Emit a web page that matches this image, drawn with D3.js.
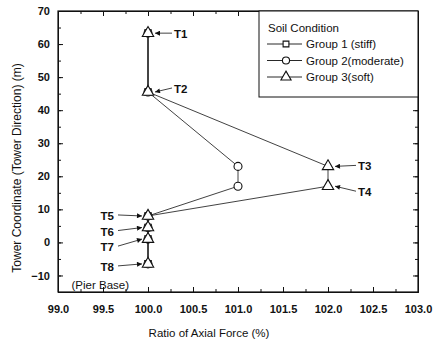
<!DOCTYPE html>
<html>
<head>
<meta charset="utf-8">
<script src="https://cdn.jsdelivr.net/npm/d3@7"></script>
<style>
    body { margin: 0; background: #fff; }
    svg { display: block; font-family: 'Liberation Sans', Arial, sans-serif; }
    .axis text { font-size: 11px; fill: #111; font-weight: bold; }
    .axis path, .axis line { stroke: #111; }
    .series { fill: none; stroke: #111; stroke-width: 0.8; }
    .node { fill: #fff; stroke: #111; stroke-width: 1.1; }
    .note { font-size: 11.5px; fill: #111; font-weight: bold; }
    .arrow { stroke: #111; stroke-width: 0.8; }
</style>
</head>
<body>
<script>
(function(){

// DATA

    const nodeNames = ['T1', 'T2', 'T3', 'T4', 'T5', 'T6', 'T7', 'T8'];
    const towerCoord = [63.3, 45.5, 23, 17, 8, 4.5, 1, -6.5];

    const seriesNames = ['Group 1 (stiff)', 'Group 2(moderate)', 'Group 3(soft)'];
    const group1 = [100, 100, null, null, 100, 100, 100, 100];
    const group2 = [100, 100, 101, 101, 100, 100, 100, 100];
    const group3 = [100, 100, 102, 102, 100, 100, 100, 100];

    const xTicks = [99.0, 99.5, 100.0, 100.5, 101.0, 101.5, 102.0, 102.5, 103.0];
    const yTicks = [-10, 0, 10, 20, 30, 40, 50, 60, 70];

// LAYOUT

    const width = 437,
        height = 343,
        margin = {top: 11, right: 19, bottom: 51, left: 58},
        innerW = width - margin.left - margin.right,
        innerH = height - margin.top - margin.bottom;

    // where each T-label sits relative to its node (px)
    const labelPlace = {
        T1: {dx: 26, dy: 1, side: 'r'},
        T2: {dx: 26, dy: -3, side: 'r'},
        T3: {dx: 30, dy: 0, side: 'r'},
        T4: {dx: 30, dy: 6, side: 'r'},
        T5: {dx: -34, dy: 0, side: 'l'},
        T6: {dx: -34, dy: 4, side: 'l'},
        T7: {dx: -34, dy: 8, side: 'l'},
        T8: {dx: -34, dy: 3, side: 'l'}
    };

    const svg = d3.select('body')
        .append('svg')
        .attr('width', width)
        .attr('height', height);

    svg.append('defs')
        .append('marker')
        .attr('id', 'head')
        .attr('viewBox', '0 0 10 10')
        .attr('refX', 10)
        .attr('refY', 5)
        .attr('markerWidth', 6)
        .attr('markerHeight', 5)
        .attr('markerUnits', 'userSpaceOnUse')
        .attr('orient', 'auto')
        .append('path')
        .attr('d', 'M0,0L10,5L0,10Z')
        .attr('fill', '#111');

    const g = svg.append('g')
        .attr('transform', 'translate(' + margin.left + ',' + margin.top + ')');

    const x = d3.scaleLinear().domain([99, 103]).range([0, innerW]);
    const y = d3.scaleLinear().domain([-15, 70]).range([innerH, 0]);

    const xMinor = d3.range(99, 103.01, 0.25);
    const yMinor = d3.range(-15, 70.01, 5);

// AXES

    function inward(axis, ticks, len){
        return axis.tickValues(ticks).tickSize(len).tickSizeOuter(0);
    }

    // minor ticks first, major ticks over them
    g.append('g').attr('class', 'axis')
        .attr('transform', 'translate(0,' + innerH + ')')
        .call(inward(d3.axisTop(x), xMinor, 3).tickFormat(''));
    g.append('g').attr('class', 'axis')
        .call(inward(d3.axisBottom(x), xMinor, 3).tickFormat(''));
    g.append('g').attr('class', 'axis')
        .call(inward(d3.axisRight(y), yMinor, 3).tickFormat(''));
    g.append('g').attr('class', 'axis')
        .attr('transform', 'translate(' + innerW + ',0)')
        .call(inward(d3.axisLeft(y), yMinor, 3).tickFormat(''));

    const xAxis = g.append('g').attr('class', 'axis')
        .attr('transform', 'translate(0,' + innerH + ')')
        .call(inward(d3.axisTop(x), xTicks, 5).tickFormat(d3.format('.1f')));
    xAxis.selectAll('text').attr('y', 13).attr('dy', '0.71em');

    const yAxis = g.append('g').attr('class', 'axis')
        .call(inward(d3.axisRight(y), yTicks, 5).tickFormat(d3.format('d')));
    yAxis.selectAll('text').attr('x', -8).attr('text-anchor', 'end');

    g.append('g').attr('class', 'axis')
        .call(inward(d3.axisBottom(x), xTicks, 5).tickFormat(''));
    g.append('g').attr('class', 'axis')
        .attr('transform', 'translate(' + innerW + ',0)')
        .call(inward(d3.axisLeft(y), yTicks, 5).tickFormat(''));

    // frame
    g.append('rect')
        .attr('width', innerW)
        .attr('height', innerH)
        .attr('fill', 'none')
        .attr('stroke', '#111')
        .attr('stroke-width', 1.2);

    svg.append('text')
        .attr('x', 209)
        .attr('y', 337)
        .attr('text-anchor', 'middle')
        .style('font-size', '11.5px')
        .attr('fill', '#111')
        .text('Ratio of Axial Force (%)');

    svg.append('text')
        .attr('transform', 'translate(21,' + 168 + ') rotate(-90)')
        .attr('text-anchor', 'middle')
        .style('font-size', '12px')
        .attr('fill', '#111')
        .text('Tower Coordinate (Tower Direction) (m)');

// SERIES

    const allSeries = [group1, group2, group3];
    const shapes = [d3.symbolSquare, d3.symbolCircle, d3.symbolTriangle];
    const shapeSize = [42, 50, 56];

    const line = d3.line()
        .defined(function(d){ return d.v !== null; })
        .x(function(d){ return x(d.v); })
        .y(function(d){ return y(d.h); });

    allSeries.forEach(function(vals, s){
        const pts = vals.map(function(v, i){
            return {v: v, h: towerCoord[i], name: nodeNames[i]};
        });

        g.append('path')
            .datum(pts)
            .attr('class', 'series')
            .attr('d', line);

        g.selectAll('.node' + s)
            .data(pts.filter(function(d){ return d.v !== null; }))
            .enter()
            .append('path')
            .attr('class', 'node node' + s)
            .attr('transform', function(d){
                return 'translate(' + x(d.v) + ',' + y(d.h) + ')';
            })
            .attr('d', d3.symbol().type(shapes[s]).size(shapeSize[s]));
    });

// NODE LABELS

    const labelled = nodeNames.map(function(n, i){
        return {name: n, v: group3[i], h: towerCoord[i]};
    });

    labelled.forEach(function(d){
        const p = labelPlace[d.name];
        const px = x(d.v), py = y(d.h);
        const tx = px + p.dx, ty = py + p.dy;

        g.append('text')
            .attr('class', 'note')
            .attr('x', tx)
            .attr('y', ty)
            .attr('dy', '0.35em')
            .attr('text-anchor', p.side === 'r' ? 'start' : 'end')
            .text(d.name);

        const x1 = p.side === 'r' ? tx - 2 : tx + 4;
        const x2 = p.side === 'r' ? px + 7 : px - 6;
        g.append('line')
            .attr('class', 'arrow')
            .attr('x1', x1)
            .attr('y1', ty - 1)
            .attr('x2', x2)
            .attr('y2', py)
            .attr('marker-end', 'url(#head)');
    });

    g.append('text')
        .attr('class', 'note')
        .style('font-weight', 'normal')
        .attr('x', x(99.15))
        .attr('y', y(-14.0))
        .text('(Pier Base)');

// LEGEND

    const legend = svg.append('g')
        .attr('transform', 'translate(259,' + margin.top + ')');

    legend.append('rect')
        .attr('width', 418 - 259)
        .attr('height', 86)
        .attr('fill', '#fff')
        .attr('stroke', '#111')
        .attr('stroke-width', 1);

    legend.append('text')
        .attr('x', 9)
        .attr('y', 17)
        .attr('dy', '0.35em')
        .style('font-size', '11.5px')
        .attr('fill', '#111')
        .text('Soil Condition');

    seriesNames.forEach(function(name, s){
        const ly = 33 + s * 16.5;
        const row = legend.append('g').attr('transform', 'translate(0,' + ly + ')');
        row.append('line')
            .attr('x1', 8).attr('x2', 43)
            .attr('stroke', '#111').attr('stroke-width', 0.9);
        row.append('path')
            .attr('class', 'node')
            .attr('transform', 'translate(27,0)')
            .attr('d', d3.symbol().type(shapes[s]).size(shapeSize[s] * 0.8));
        row.append('text')
            .attr('x', 47)
            .attr('dy', '0.35em')
            .style('font-size', '11.5px')
            .attr('fill', '#111')
            .text(name);
    });

})();
</script>
</body>
</html>
